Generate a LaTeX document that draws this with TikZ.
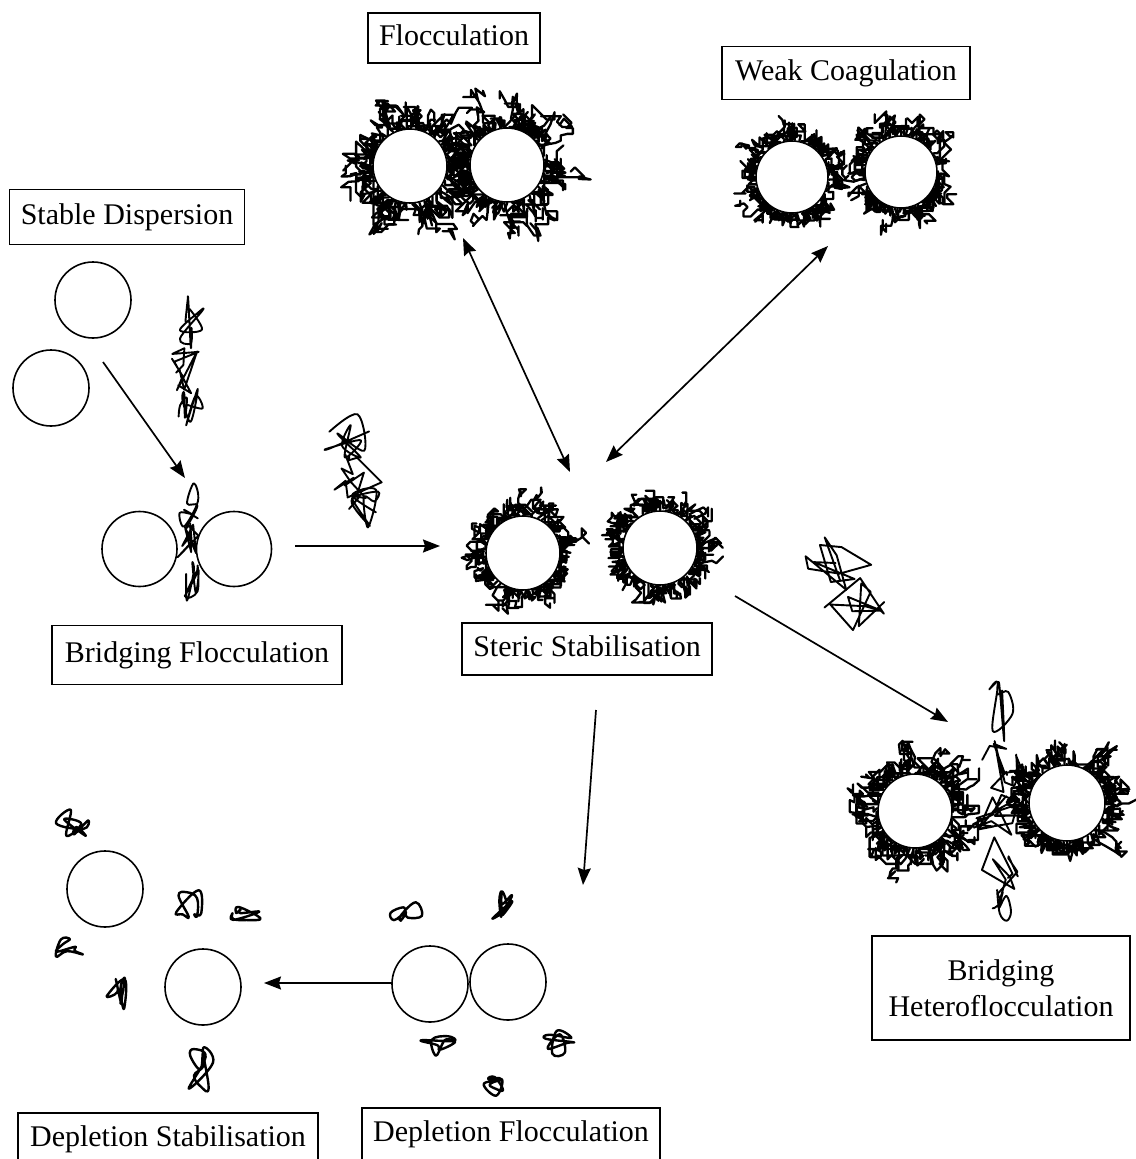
\documentclass[tikz,border=0pt]{standalone}
\usepackage{fontspec}
\setmainfont{Liberation Serif}
\usetikzlibrary{arrows.meta}
\gdef\chbias{0}\gdef\chplot{sharp plot}\gdef\chlw{2.3pt}
% random-walk grafted chain: cx cy startx starty steps steplen Rin Rout
\newcommand\pchain[8]{%
  \xdef\chpx{#3}\xdef\chpy{#4}%
  \xdef\chlist{(\chpx,\chpy)}%
  \foreach \k in {1,...,#5}{%
    \pgfmathsetmacro\chdx{\chpx-(#1)}%
    \pgfmathsetmacro\chdy{\chpy-(#2)}%
    \pgfmathsetmacro\chbiased{rnd<\chbias}%
    \pgfmathsetmacro\chang{ifthenelse(\chbiased,atan2(\chdy,\chdx)+(rnd-0.5)*60,90*random(4)+45*(rnd<0.3))}%
    \pgfmathsetmacro\chL{(#6)*(0.5+rnd)}%
    \pgfmathsetmacro\chux{\chL*cos(\chang)}%
    \pgfmathsetmacro\chuy{\chL*sin(\chang)}%
    \pgfmathsetmacro\chdq{veclen(\chpx+\chux-(#1),\chpy+\chuy-(#2))}%
    \pgfmathsetmacro\chbad{or(\chdq<(#7),\chdq>(#8))}%
    \pgfmathsetmacro\chqx{\chpx+(\chux)*(1-2*\chbad)}%
    \pgfmathsetmacro\chqy{\chpy+(\chuy)*(1-2*\chbad)}%
    \xdef\chpx{\chqx}\xdef\chpy{\chqy}%
    \xdef\chlist{\chlist (\chqx,\chqy)}%
  }%
  \edef\chtmp{\noexpand\draw[chainline,line width=\chlw] plot[\chplot] coordinates {\chlist};}\chtmp
}
% grafted chains round a particle: cx cy R n reach steps steplen
\newcommand\hairy[7]{%
  \foreach \j in {1,...,#4}{%
    \pgfmathsetmacro\ha{(360/#4)*(\j+rnd)}%
    \pgfmathsetmacro\hsx{#1+(#3+1)*cos(\ha)}%
    \pgfmathsetmacro\hsy{#2+(#3+1)*sin(\ha)}%
    \pgfmathsetmacro\hr{rnd}%
    \pgfmathsetmacro\hout{#3+3+(#5)*(0.2+0.8*\hr*\hr)}%
    \pchain{#1}{#2}{\hsx}{\hsy}{#6}{#7}{#3+1}{\hout}%
  }%
}
% tangled free coil: n random points in an ellipse joined by a curve
% cx cy sx sy n seed plotstyle
\newcommand\blob[7]{%
  \pgfmathsetseed{#6}%
  \pgfmathsetmacro\cwarm{rnd}\pgfmathsetmacro\cwarm{rnd}\pgfmathsetmacro\cwarm{rnd}%
  \xdef\chlist{}%
  \foreach \k in {1,...,#5}{%
    \pgfmathsetmacro\ctr{sqrt(rnd)}\pgfmathsetmacro\ctt{360*rnd}%
    \pgfmathsetmacro\cqx{#1+#3*\ctr*cos(\ctt)}%
    \pgfmathsetmacro\cqy{#2+#4*\ctr*sin(\ctt)}%
    \xdef\chlist{\chlist (\cqx,\cqy)}%
  }%
  \edef\chtmp{\noexpand\draw[chainline,line width=\chlw] plot[#7] coordinates {\chlist};}\chtmp
}
\begin{document}
\begin{tikzpicture}[x=1pt,y=-1pt,
  chainline/.style={line join=round, line cap=round},
  ball/.style={line width=1.6pt, fill=white},
  lblbase/.style={draw, line width=1.3pt, font=\fontsize{30}{36}\selectfont, inner xsep=0pt, inner ysep=0pt, align=center},
  lbl/.style={lblbase, text height=21pt, text depth=7pt},
  arr/.style={line width=1.7pt, -{Stealth[length=17pt,width=13pt,inset=2pt]}},
  darr/.style={line width=1.7pt, {Stealth[length=17pt,width=13pt,inset=2pt]}-{Stealth[length=17pt,width=13pt,inset=2pt]}}]
\useasboundingbox (0,0) rectangle (1135,1159);

% ---------- labels ----------
\node[lbl, minimum width=172pt, minimum height=50pt] (floc) at (454,38) {Flocculation};
\node[lbl, minimum width=248pt, minimum height=53pt] (weak) at (846,73) {Weak Coagulation};
\node[lbl, minimum width=235pt, minimum height=55pt] (stable) at (127,217) {Stable Dispersion};
\node[lbl, minimum width=290pt, minimum height=59pt] (bridge) at (197,655) {Bridging Flocculation};
\node[lbl, minimum width=250pt, minimum height=52pt] (steric) at (587,649) {Steric Stabilisation};
\node[lblbase, minimum width=258pt, minimum height=104pt] (hetero) at (1001,988) {Bridging\\Heteroflocculation};
\node[lbl, minimum width=300pt, minimum height=52pt] (dstab) at (168,1139) {Depletion Stabilisation};
\node[lbl, minimum width=298pt, minimum height=52pt] (dfloc) at (511,1134) {Depletion Flocculation};

% ---------- grafted layers ----------
\pgfmathsetseed{11}\gdef\chbias{0.35}
\hairy{410}{166}{37}{56}{52}{11}{9}
\hairy{507}{165}{37}{56}{46}{11}{9}
\pgfmathsetseed{12}\gdef\chbias{0.25}
\hairy{792}{177}{36}{56}{30}{10}{7}
\hairy{901}{172}{36}{56}{30}{10}{7}
\pgfmathsetseed{13}\gdef\chbias{0.25}
\hairy{523}{553}{37}{56}{32}{10}{7}
\hairy{660}{548}{37}{56}{30}{10}{7}
\pgfmathsetseed{14}\gdef\chbias{0.3}
\hairy{915}{811}{37}{58}{42}{11}{8}
\hairy{1067}{803}{38}{58}{42}{11}{8}

% ---------- particles ----------
\draw[ball] (93,300) circle[radius=38pt];
\draw[ball] (51,388) circle[radius=38pt];
\draw[ball] (139.5,549) circle[radius=37.5pt];
\draw[ball] (234,549) circle[radius=37.5pt];
\draw[ball] (410,166) circle[radius=37pt];
\draw[ball] (507,165) circle[radius=37pt];
\draw[ball] (792,177) circle[radius=36pt];
\draw[ball] (901,172) circle[radius=36pt];
\draw[ball] (523,553) circle[radius=37pt];
\draw[ball] (660,548) circle[radius=37pt];
\draw[ball] (915,811) circle[radius=37pt];
\draw[ball] (1067,803) circle[radius=38pt];
\draw[ball] (105,889) circle[radius=38pt];
\draw[ball] (203,987) circle[radius=38pt];
\draw[ball] (430,984) circle[radius=38pt];
\draw[ball] (508,982) circle[radius=38pt];

% ---------- free coils ----------
\gdef\chlw{1.9pt}
% stable dispersion coil
\blob{190}{322}{14}{26}{12}{12011}{smooth,tension=0.6}
\blob{188}{367}{20}{28}{14}{12323}{sharp plot}
\blob{192}{410}{16}{26}{12}{12647}{smooth,tension=0.6}
% coil beside the horizontal arrow
\blob{350}{442}{26}{30}{12}{12979}{smooth,tension=0.6}
\blob{358}{475}{34}{26}{16}{13309}{sharp plot}
\blob{362}{508}{22}{26}{12}{13649}{smooth,tension=0.6}
% bridging coil between the two particles
\blob{189}{506}{11}{26}{11}{13963}{smooth,tension=0.6}
\blob{188}{545}{12}{24}{14}{14293}{sharp plot}
\blob{190}{580}{11}{22}{11}{14627}{smooth,tension=0.6}
% coil beside the steric pair
\blob{835}{566}{38}{32}{14}{14951}{sharp plot}
\blob{865}{600}{42}{36}{14}{15287}{sharp plot}
% bridging heteroflocculation chain
\blob{998}{712}{18}{32}{10}{15619}{smooth,tension=0.6}
\blob{1002}{765}{24}{32}{16}{15937}{sharp plot}
\blob{995}{815}{24}{32}{16}{16061}{sharp plot}
\blob{1000}{868}{20}{32}{14}{11003}{sharp plot}
\blob{1003}{905}{16}{18}{9}{11321}{smooth,tension=0.6}
% small collapsed coils (depletion)
\gdef\chlw{2.4pt}
\blob{74}{824}{18}{16}{10}{11657}{smooth cycle,tension=0.7}
\blob{190}{903}{16}{19}{10}{11981}{smooth cycle,tension=0.7}
\blob{247}{917}{17}{15}{10}{10301}{smooth cycle,tension=0.7}
\blob{69}{948}{18}{16}{10}{10631}{smooth cycle,tension=0.7}
\blob{120}{998}{14}{22}{10}{10957}{smooth cycle,tension=0.7}
\blob{199}{1072}{17}{28}{12}{9973}{smooth cycle,tension=0.7}
\blob{407}{913}{18}{13}{10}{9631}{smooth cycle,tension=0.7}
\blob{500}{903}{15}{19}{10}{9311}{smooth cycle,tension=0.7}
\blob{437}{1045}{20}{11}{10}{8999}{smooth cycle,tension=0.7}
\blob{555}{1043}{18}{14}{10}{8663}{smooth cycle,tension=0.7}
\blob{497}{1082}{16}{14}{10}{8317}{smooth cycle,tension=0.7}

% ---------- arrows ----------
\coordinate (a1s) at (103,362); \coordinate (a1e) at (185,478);
\coordinate (a2s) at (295,546); \coordinate (a2e) at (440,546);
\coordinate (a3s) at (463,238); \coordinate (a3e) at (570,472);
\coordinate (a4s) at (828,246); \coordinate (a4e) at (606,462);
\coordinate (a5s) at (735,596); \coordinate (a5e) at (948,722);
\coordinate (a6s) at (596,710); \coordinate (a6e) at (583,885);
\coordinate (a7s) at (393,983); \coordinate (a7e) at (264,983);
\draw[arr] (a1s) -- (a1e);
\draw[arr] (a2s) -- (a2e);
\draw[darr] (a3s) -- (a3e);
\draw[darr] (a4s) -- (a4e);
\draw[arr] (a5s) -- (a5e);
\draw[arr] (a6s) -- (a6e);
\draw[arr] (a7s) -- (a7e);
\end{tikzpicture}
\end{document}
